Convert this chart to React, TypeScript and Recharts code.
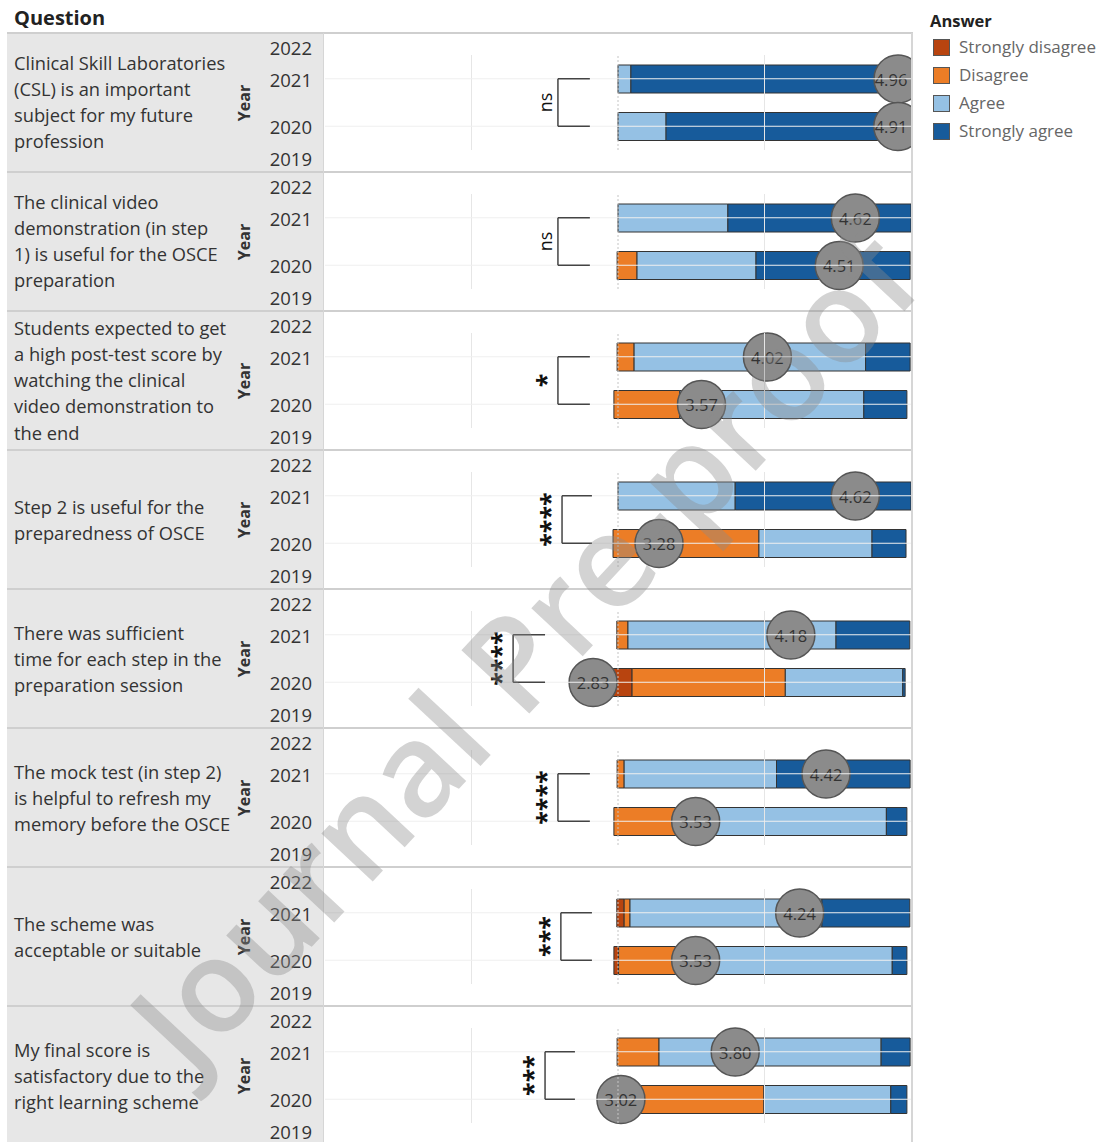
import { ComposedChart, Bar, XAxis, YAxis, ReferenceLine } from 'recharts'

// question text, one entry per line as wrapped in the original
const QUESTION_LINES = [
  ['Clinical Skill Laboratories', '(CSL) is an important', 'subject for my future', 'profession'],
  ['The clinical video', 'demonstration (in step', '1) is useful for the OSCE', 'preparation'],
  ['Students expected to get', 'a high post-test score by', 'watching the clinical', 'video demonstration to', 'the end'],
  ['Step 2 is useful for the', 'preparedness of OSCE'],
  ['There was sufficient', 'time for each step in the', 'preparation session'],
  ['The mock test (in step 2)', 'is helpful to refresh my', 'memory before the OSCE'],
  ['The scheme was', 'acceptable or suitable'],
  ['My final score is', 'satisfactory due to the', 'right learning scheme'],
]

const YEAR_LABELS = ['2022', '2021', '2020', '2019']
const BAR_YEARS = ['2021', '2020']

const ANSWERS = ['Strongly disagree', 'Disagree', 'Agree', 'Strongly agree']
const ANSWER_KEYS = ['sd', 'd', 'a', 'sa']

// shares in percent
const OFFSET_2021 = [0, 0, -0.3, 0, -0.4, -0.3, -0.4, -0.3]
const SD_2021 = [0, 0, 0, 0, 0, 0, 2.5, 0]
const D_2021 = [0, 0, 5.8, 0, 3.8, 2.4, 2.0, 14.3]
const A_2021 = [4.4, 37.5, 79.0, 40.0, 71.0, 52.0, 65.5, 75.8]
const SA_2021 = [95.6, 62.5, 15.2, 60.0, 25.2, 45.6, 30.0, 9.9]

const OFFSET_2020 = [0, -0.3, -1.4, -1.7, -2.0, -1.4, -1.4, -1.4]
const SD_2020 = [0, 0, 0, 0, 6.8, 0, 1.6, 0]
const D_2020 = [0, 6.8, 22.5, 49.8, 52.3, 24.0, 20.8, 51.2]
const A_2020 = [16.4, 40.6, 62.8, 38.6, 40.1, 69.0, 72.6, 43.3]
const SA_2020 = [83.6, 52.6, 14.7, 11.6, 0.8, 7.0, 5.0, 5.5]

const MEAN_2021 = [4.96, 4.62, 4.02, 4.62, 4.18, 4.42, 4.24, 3.8]
const MEAN_2020 = [4.91, 4.51, 3.57, 3.28, 2.83, 3.53, 3.53, 3.02]

const SIGNIFICANCE = ['ns', 'ns', '*', '****', '****', '****', '***', '***']

// layout
const COLORS = ['#b8440f', '#ec7d26', '#95c1e4', '#175b9b']
const ROW_TOP = 33
const ROW_H = 139
const YEAR_Y = [15, 47, 94, 126]
const BRACKET_X: [number, number][] = [
  [-20.5, -9.6], [-20.5, -9.6], [-20.5, -9.6], [-19.1, -8.9],
  [-35.8, -24.9], [-20.5, -9.6], [-19.5, -8.9], [-24.9, -14.7],
]
const FONT = '"Open Sans", "Noto Sans", sans-serif'
const PLOT_RIGHT = 589

function rowData(i: number) {
  return [
    { year: BAR_YEARS[0], off: OFFSET_2021[i], sd: SD_2021[i], d: D_2021[i], a: A_2021[i], sa: SA_2021[i], mean: MEAN_2021[i] },
    { year: BAR_YEARS[1], off: OFFSET_2020[i], sd: SD_2020[i], d: D_2020[i], a: A_2020[i], sa: SA_2020[i], mean: MEAN_2020[i] },
  ]
}

function MeanCircle(props: any) {
  const { x, y, width, height, payload } = props
  // keep the bubble readable at the right edge of the pane
  const cx = Math.min(x + width, PLOT_RIGHT - 13)
  const cy = y + height / 2
  return (
    <g>
      <circle cx={cx} cy={cy} r={24} fill="#8b8b8b" stroke="#555" strokeWidth={1.5} />
      <text x={Math.min(cx, PLOT_RIGHT - 20)} y={cy} textAnchor="middle" dominantBaseline="central"
        fontSize={16.5} fontFamily={FONT} fill="#333">
        {payload.mean.toFixed(2)}
      </text>
    </g>
  )
}

function SigLabel(props: any) {
  const { viewBox, text } = props
  if (!viewBox) return null
  const cx = viewBox.x - 13
  const cy = viewBox.y + viewBox.height / 2
  const stars = text !== 'ns'
  return (
    <text x={cx} y={cy} transform={`rotate(-90 ${cx} ${cy})`} textAnchor="middle"
      dominantBaseline="central" fontSize={stars ? 25 : 18} fontWeight={stars ? 700 : 400}
      fontFamily={FONT} fill="#111">
      {text}
    </text>
  )
}

function RowChart({ i }: { i: number }) {
  const data = rowData(i)
  const [bx, ex] = BRACKET_X[i]
  return (
    <ComposedChart width={590} height={ROW_H} data={data} layout="vertical"
      margin={{ top: 22, right: 1, bottom: 22, left: 3 }}>
      <XAxis type="number" domain={[-100, 100]} allowDataOverflow hide />
      <XAxis xAxisId="m" type="number" domain={[1, 5]} allowDataOverflow hide />
      <YAxis type="category" dataKey="year" hide />
      <YAxis yAxisId="m" type="category" dataKey="year" hide />
      <ReferenceLine x={-50} stroke="#e6e6e6" />
      <ReferenceLine x={50} stroke="#e6e6e6" />
      <ReferenceLine x={0} stroke="#c4c4c4" strokeDasharray="2 2" />
      {BAR_YEARS.map(y => (
        <ReferenceLine key={y} y={y} stroke="#efefef" />
      ))}
      <ReferenceLine segment={[{ x: bx, y: BAR_YEARS[0] }, { x: ex, y: BAR_YEARS[0] }]} stroke="#444" strokeWidth={1.5} />
      <ReferenceLine segment={[{ x: bx, y: BAR_YEARS[1] }, { x: ex, y: BAR_YEARS[1] }]} stroke="#444" strokeWidth={1.5} />
      <ReferenceLine segment={[{ x: bx, y: BAR_YEARS[0] }, { x: bx, y: BAR_YEARS[1] }]} stroke="#444" strokeWidth={1.5}
        label={<SigLabel text={SIGNIFICANCE[i]} />} />
      <Bar dataKey="off" stackId="s" fill="transparent" stroke="none" barSize={28} isAnimationActive={false} />
      {ANSWER_KEYS.map((k, j) => (
        <Bar key={k} dataKey={k} stackId="s" fill={COLORS[j]} stroke="#333" strokeWidth={1}
          barSize={28} isAnimationActive={false} />
      ))}
      <Bar dataKey="mean" xAxisId="m" yAxisId="m" barSize={28} fill="none"
        shape={MeanCircle} isAnimationActive={false} />
    </ComposedChart>
  )
}

export default function App() {
  return (
    <div style={{ position: 'absolute', left: 0, top: 0, width: 1102, height: 1142, overflow: 'hidden',
      background: '#fff', fontFamily: FONT, color: '#333' }}>
      <div style={{ position: 'absolute', left: 14, top: 4, fontSize: 20, fontWeight: 700, lineHeight: '28px', color: '#222' }}>
        Question
      </div>

      {QUESTION_LINES.map((lines, i) => (
        <div key={i} style={{ position: 'absolute', left: 7, top: ROW_TOP + i * ROW_H, width: 905, height: ROW_H }}>
          <div style={{ position: 'absolute', left: 0, top: 0, width: 316, height: ROW_H, background: '#e7e7e7' }}>
            <div style={{ position: 'absolute', left: 7, top: '50%', transform: 'translateY(-50%)',
              fontSize: 18.3, lineHeight: '26.3px', whiteSpace: 'nowrap' }}>
              {lines.map(l => <div key={l}>{l}</div>)}
            </div>
            <div style={{ position: 'absolute', left: 237, top: ROW_H / 2, transform: 'translate(-50%, -50%) rotate(-90deg)',
              fontSize: 16, fontWeight: 700, lineHeight: '20px' }}>
              Year
            </div>
            {YEAR_LABELS.map((y, k) => (
              <div key={y} style={{ position: 'absolute', right: 11, top: YEAR_Y[k] - 8, fontSize: 18.5, lineHeight: '16px' }}>
                {y}
              </div>
            ))}
          </div>
          <div style={{ position: 'absolute', left: 315, top: 0 }}>
            <RowChart i={i} />
          </div>
        </div>
      ))}

      {QUESTION_LINES.map((_, i) => (
        <div key={'h' + i} style={{ position: 'absolute', left: 7, top: ROW_TOP + i * ROW_H - 1, width: 906, height: 2, background: '#cfcfcf' }} />
      ))}
      <div style={{ position: 'absolute', left: 323, top: ROW_TOP, width: 1, height: 1142 - ROW_TOP, background: '#d6d6d6' }} />
      <div style={{ position: 'absolute', left: 911, top: ROW_TOP, width: 2, height: 1142 - ROW_TOP, background: '#d6d6d6' }} />

      <div style={{ position: 'absolute', left: 930, top: 8, fontSize: 16.5, fontWeight: 700, lineHeight: '26px', color: '#222' }}>
        Answer
      </div>
      {ANSWERS.map((a, j) => (
        <div key={a} style={{ position: 'absolute', left: 933, top: 47 + j * 28 - 13, height: 26, display: 'flex', alignItems: 'center' }}>
          <div style={{ width: 15, height: 15, background: COLORS[j], border: '1px solid #555' }} />
          <div style={{ marginLeft: 9, fontSize: 17, lineHeight: '26px', color: '#666', whiteSpace: 'nowrap' }}>{a}</div>
        </div>
      ))}

      <div style={{ position: 'absolute', left: 522, top: 648, transform: 'translate(-50%, -50%) rotate(-47deg)',
        fontSize: 130, fontWeight: 600, whiteSpace: 'nowrap', color: 'rgba(140,140,140,0.38)', pointerEvents: 'none', lineHeight: 1 }}>
        Journal Pre-proof
      </div>
    </div>
  )
}
